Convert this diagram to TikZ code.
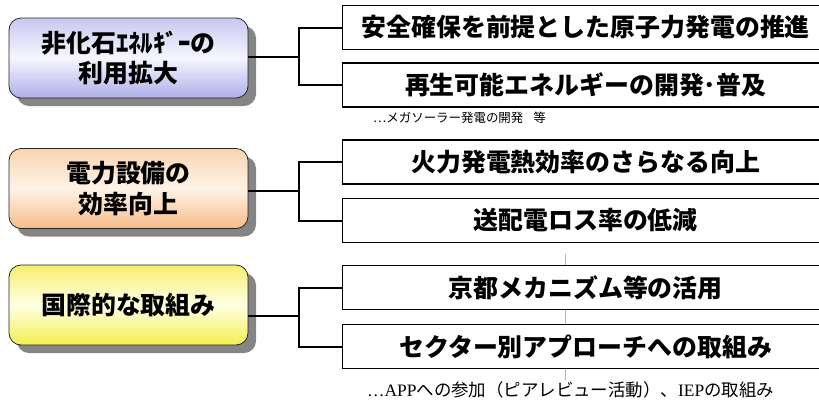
\documentclass[tikz,border=0pt]{standalone}
\usepackage{fontspec}
\setmainfont{Liberation Serif}
\newfontfamily\jp{Noto Sans CJK JP}
\usetikzlibrary{shadows}
\definecolor{lavtop}{RGB}{200,200,240}
\definecolor{lavmid}{RGB}{246,246,255}
\definecolor{lavbot}{RGB}{174,174,232}
\definecolor{orgtop}{RGB}{250,212,178}
\definecolor{orgmid}{RGB}{255,243,230}
\definecolor{orgbot}{RGB}{247,188,138}
\definecolor{yeltop}{RGB}{246,238,110}
\definecolor{yelmid}{RGB}{255,255,228}
\definecolor{yelbot}{RGB}{243,238,80}
\definecolor{guide}{RGB}{170,170,250}
\tikzset{
  goal/.style={draw=black!85, line width=0.8bp, rounded corners=12bp,
    minimum width=239bp, minimum height=80bp, align=center,
    font=\jp\bfseries\fontsize{25}{31}\selectfont,
    drop shadow={shadow xshift=8bp, shadow yshift=-8bp, fill=black!48, opacity=1}},
  measure/.style={draw, line width=1.3bp, fill=white, anchor=west, inner sep=0pt,
    minimum width=486bp, minimum height=44bp,
    font=\jp\bfseries\fontsize{25}{30}\selectfont},
  note/.style={anchor=west, inner sep=0pt},
  branch/.style={line width=2bp}
}
\begin{document}
\begin{tikzpicture}[x=1bp, y=-1bp]
  \useasboundingbox (0,0) rectangle (819,401);
  \draw[guide, line width=0.6bp] (565,254) -- (565,380);
  % goals
  \node (g1) [goal, top color=lavtop, bottom color=lavbot, middle color=lavmid] at (128.5,58) {非化石ｴﾈﾙｷﾞｰの\\利用拡大};
  \node (g2) [goal, top color=orgtop, bottom color=orgbot, middle color=orgmid] at (128.5,188.5) {電力設備の\\効率向上};
  \node (g3) [goal, top color=yeltop, bottom color=yelbot, middle color=yelmid] at (128.5,305) {国際的な取組み};
  % measures
  \node (m1) [measure] at (342,27.5) {安全確保を前提とした原子力発電の推進};
  \node (m2) [measure] at (342,85) {再生可能エネルギーの開発･普及};
  \node (m3) [measure] at (342,162) {火力発電熱効率のさらなる向上};
  \node (m4) [measure] at (342,220.5) {送配電ロス率の低減};
  \node (m5) [measure] at (342,287.5) {京都メカニズム等の活用};
  \node (m6) [measure] at (342,346.5) {セクター別アプローチへの取組み};
  \node (n1) [note, font=\jp\fontsize{12.5}{14}\selectfont] at (373,118) {…メガソーラー発電の開発\hspace{0.8em}等};
  \node (n2) [note, font=\jp\fontsize{17.5}{20}\selectfont] at (367,390) {{\rmfamily …APP}への参加（ピアレビュー活動）、{\rmfamily IEP}の取組み};
  % branches
  \coordinate (h1) at (299,57);
  \coordinate (h2) at (299,191);
  \coordinate (h3) at (299,316);
  \draw[branch] (g1.east |- h1) -- (h1);
  \draw[branch] (m1.west) -| (h1) |- (m2.west);
  \draw[branch] (g2.east |- h2) -- (h2);
  \draw[branch] (m3.west) -| (h2) |- (m4.west);
  \draw[branch] (g3.east |- h3) -- (h3);
  \draw[branch] (m5.west) -| (h3) |- (m6.west);
\end{tikzpicture}
\end{document}
